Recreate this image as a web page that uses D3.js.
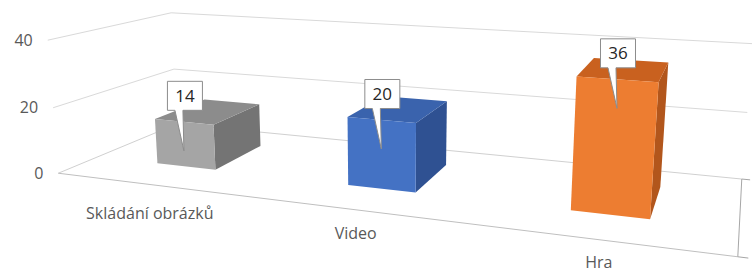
<!DOCTYPE html>
<html>
<head>
<meta charset="utf-8">
<script src="https://cdn.jsdelivr.net/npm/d3@7"></script>
<style>
  body { margin: 0; background: #fff; }
  svg { display: block; }
  text { font-family: "Open Sans", sans-serif; }
</style>
</head>
<body>
<svg width="752" height="272"></svg>
<script>
const categories = ["Skládání obrázků", "Video", "Hra"];
const values = [14, 20, 36];
const yTicks = [0, 20, 40];
const frontColors = ["#a5a5a5", "#4472c4", "#ed7d31"];
const topColors = ["#8c8c8c", "#3a63ad", "#c9611f"];
const sideColors = ["#747474", "#2f5192", "#b2561c"];

const svg = d3.select("svg");

// world: x 0..1 across categories, y = value, z 0 (front) .. 1 (back wall)
const x = d3.scaleBand().domain(categories).range([0, 1])
  .paddingInner(0.68).paddingOuter(0.34);
const y = d3.scaleLinear().domain([0, 40]).range([0, 1]);
const zFront = 0.3, zBack = 0.75;

// where the chart box corners sit on screen, used to fit the perspective
const calib = [
  [[0, 0, 0], [59, 172]],
  [[1, 0, 0], [738, 257]],
  [[0, 0, 1], [176, 125]],
  [[1, 0, 1], [742, 179]],
  [[0, 20, 0], [53, 108]],
  [[0, 40, 0], [47, 41]],
  [[0, 20, 1], [174, 69]],
  [[0, 40, 1], [172, 12]],
  [[1, 20, 1], [747, 112]],
  [[1, 40, 1], [753, 44]]
];

function fitCamera(pts) {
  const A = [], b = [];
  pts.forEach(([[X, V, Z], [u, v]]) => {
    const Y = y(V);
    u /= 100; v /= 100;
    A.push([X, Y, Z, 1, 0, 0, 0, 0, -u * X, -u * Y, -u * Z]); b.push(u);
    A.push([0, 0, 0, 0, X, Y, Z, 1, -v * X, -v * Y, -v * Z]); b.push(v);
  });
  const n = 11;
  const M = d3.range(n).map(i => d3.range(n + 1).map(j =>
    j < n ? d3.sum(A, r => r[i] * r[j]) : d3.sum(A, (r, k) => r[i] * b[k])));
  for (let c = 0; c < n; c++) {
    let p = c;
    for (let r = c + 1; r < n; r++) if (Math.abs(M[r][c]) > Math.abs(M[p][c])) p = r;
    [M[c], M[p]] = [M[p], M[c]];
    for (let r = 0; r < n; r++) {
      if (r === c) continue;
      const f = M[r][c] / M[c][c];
      for (let j = c; j <= n; j++) M[r][j] -= f * M[c][j];
    }
  }
  return M.map((r, i) => r[n] / r[i]);
}

const P = fitCamera(calib);

// X in 0..1, Y already scaled, Z in 0..1
function project(X, Y, Z) {
  const w = P[8] * X + P[9] * Y + P[10] * Z + 1;
  return [100 * (P[0] * X + P[1] * Y + P[2] * Z + P[3]) / w,
          100 * (P[4] * X + P[5] * Y + P[6] * Z + P[7]) / w];
}

const line = d3.line();
const seg = (a, b) => line([project(...a), project(...b)]);

// walls and floor
const grid = svg.append("g").attr("fill", "none");
yTicks.filter(t => t > 0).forEach(t => {
  grid.append("path").attr("d", seg([0, y(t), 0], [0, y(t), 1])).attr("stroke", "#d9d9d9");
  grid.append("path").attr("d", seg([0, y(t), 1], [1, y(t), 1])).attr("stroke", "#d9d9d9");
});
grid.append("path").attr("d", seg([0, 0, 0], [0, 0, 1])).attr("stroke", "#d0d0d0");
grid.append("path").attr("d", seg([0, 0, 1], [1, 0, 1])).attr("stroke", "#d0d0d0");
grid.append("path").attr("d", seg([0, 0, 0], [1, 0, 0])).attr("stroke", "#bfbfbf");
// depth axis on the right with end ticks
grid.append("path").attr("d", seg([1, 0, 0], [1, 0, 1])).attr("stroke", "#a6a6a6");
[0, 1].forEach(z => {
  grid.append("path").attr("d", seg([1, 0, z], [1.012, 0, z])).attr("stroke", "#a6a6a6");
});

// value labels on the left wall
svg.append("g").selectAll("text").data(yTicks).join("text")
  .attr("x", d => project(0, y(d), 0)[0] - 15)
  .attr("y", d => project(0, y(d), 0)[1])
  .attr("dy", "0.35em")
  .attr("text-anchor", "end")
  .attr("font-size", 16)
  .attr("fill", "#595959")
  .text(d => d);

// bars
const bars = svg.append("g").selectAll("g").data(categories).join("g");
const face = pts => line(pts.map(p => project(...p))) + "Z";
bars.each(function (c, i) {
  const g = d3.select(this);
  const x0 = x(c), x1 = x0 + x.bandwidth(), yt = y(values[i]);
  g.append("path").attr("fill", sideColors[i])
    .attr("d", face([[x1, 0, zFront], [x1, 0, zBack], [x1, yt, zBack], [x1, yt, zFront]]));
  g.append("path").attr("fill", topColors[i])
    .attr("d", face([[x0, yt, zFront], [x1, yt, zFront], [x1, yt, zBack], [x0, yt, zBack]]));
  g.append("path").attr("fill", frontColors[i])
    .attr("d", face([[x0, 0, zFront], [x1, 0, zFront], [x1, yt, zFront], [x0, yt, zFront]]));
});

// callout data labels
const bw = 35, bh = 29;
const callouts = svg.append("g").selectAll("g").data(categories).join("g");
callouts.each(function (c, i) {
  const g = d3.select(this);
  const [tx, ty0] = project(x(c) + x.bandwidth() / 2, y(values[i]), zFront);
  const ty = ty0 + 29;
  const cx = tx + 1, cy = ty - 55;
  const l = cx - bw / 2, r = cx + bw / 2, t = cy - bh / 2, b = cy + bh / 2;
  const path = d3.path();
  path.moveTo(l, t); path.lineTo(r, t); path.lineTo(r, b);
  path.lineTo(tx - 1, b); path.lineTo(tx, ty); path.lineTo(tx - 9, b);
  path.lineTo(l, b); path.closePath();
  g.append("path").attr("d", path.toString())
    .attr("fill", "#fff").attr("stroke", "#8c8c8c");
  g.append("text").attr("x", cx).attr("y", cy).attr("dy", "0.35em")
    .attr("text-anchor", "middle").attr("font-size", 17).attr("fill", "#262626")
    .text(values[i]);
});

// category labels hang under the front edge of the floor
const f0 = project(0, 0, 0), f1 = project(1, 0, 0);
const edgeSlope = (f1[1] - f0[1]) / (f1[0] - f0[0]);
svg.append("g").selectAll("text").data(categories).join("text")
  .attr("text-anchor", "middle")
  .attr("font-size", 16)
  .attr("fill", "#595959")
  .text(d => d)
  .each(function (d) {
    const [px, py] = project(x(d) + x.bandwidth() / 2, 0, 0);
    const half = this.getComputedTextLength() / 2;
    d3.select(this).attr("x", px).attr("y", py + edgeSlope * half + 27);
  });
</script>
</body>
</html>
